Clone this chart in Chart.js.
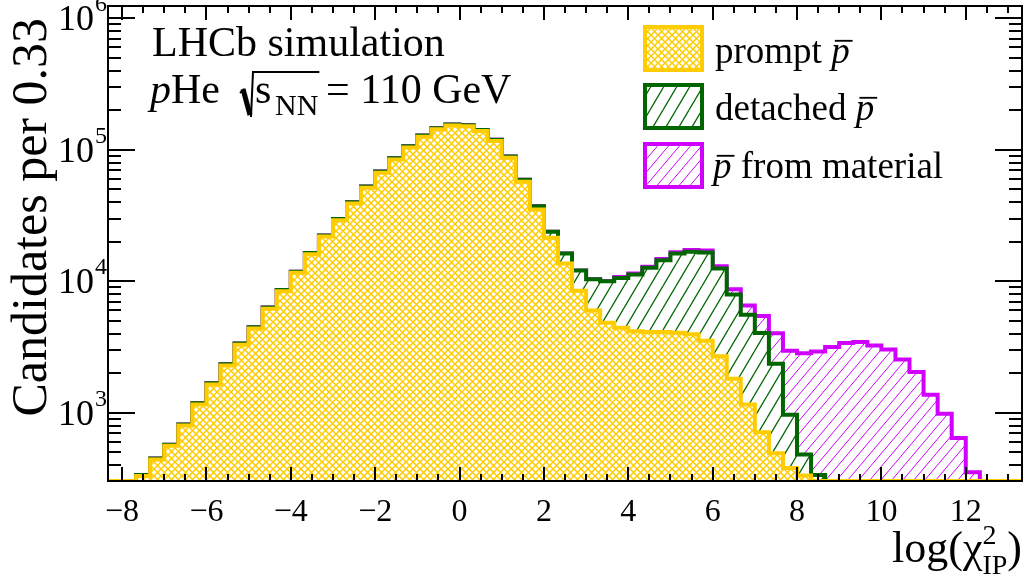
<!DOCTYPE html>
<html><head><meta charset="utf-8">
<script src="https://cdn.jsdelivr.net/npm/chart.js@4.4.1/dist/chart.umd.min.js"></script>
<style>html,body{margin:0;padding:0;background:#fff;}#wrap{width:1027px;height:577px;}</style>
</head><body><div id="wrap"><canvas id="c" width="1027" height="577"></canvas></div>
<script>
// ---- data ----
const BIN_START = -25/3;          // first bin lower edge
const BIN_WIDTH = 1/3;            // "Candidates per 0.33"
const X_TICKS = [-8,-6,-4,-2,0,2,4,6,8,10,12];
const Y_TICKS = [1e3,1e4,1e5,1e6];
const Y_MIN = 303, Y_MAX = 1.24e6;

// stacked histogram tops per bin (0 = empty bin)
const promptTop = [0,0,330,441,561,800,1156,1644,2291,3296,4385,6194,8395,11590,16070,21880,29170,39080,51420,66950,84530,104300,125800,143000,152700,150700,138700,116400,87100,57150,35160,21430,13650,8490,5985,4832,4426,4162,4120,4120,4065,3961,3533,2692,1815,1156,713,492,381,334,0,0,0,0,0,0,0,0,0,0,0,0,0,0,0];
const detachedTop = [0,0,337,450,572,816,1180,1677,2340,3365,4475,6320,8570,11830,16400,22330,29770,39890,52480,68330,86270,106500,128400,146000,155900,153900,141300,119400,89100,59160,37240,23770,16250,12060,10350,10000,10610,11250,12650,14450,16250,16740,16550,12500,7930,5575,4046,2362,966,481,336,0,0,0,0,0,0,0,0,0,0,0,0,0,0];
const materialTop = [0,0,337,450,572,816,1180,1677,2340,3365,4475,6320,8570,11830,16400,22330,29770,39890,52480,68330,86270,106500,128400,146000,155900,153900,141300,119400,89100,59160,37240,23770,16250,12060,10350,10000,10800,11450,12900,14750,16600,17300,17140,13010,8690,6560,5445,4027,2966,2833,2930,3165,3395,3455,3256,3036,2545,2042,1371,982,642,353,0,0,0];

const SERIES_LABELS = ['prompt', 'detached', 'from material'];
const COLORS = {prompt:'#ffcc00', detached:'#006600', material:'#d000ff'};

// ---- patterns ----
const canvas = document.getElementById('c');
const ctx0 = canvas.getContext('2d');
function makePattern(w, h, color, lw, drawFn){
  const t = document.createElement('canvas'); t.width = w; t.height = h;
  const g = t.getContext('2d');
  g.fillStyle = '#fff'; g.fillRect(0,0,w,h);
  g.strokeStyle = color; g.lineWidth = lw;
  g.beginPath(); drawFn(g, w, h); g.stroke();
  return ctx0.createPattern(t, 'repeat');
}
const patPrompt = makePattern(7, 7, COLORS.prompt, 1.5, (g,w,h)=>{
  g.moveTo(-1,-1); g.lineTo(w+1,h+1); g.moveTo(-1,h+1); g.lineTo(w+1,-1);
});
const patDetached = makePattern(13, 22, COLORS.detached, 1.3, (g,w,h)=>{
  for (const o of [-w,0,w]) { g.moveTo(o,h); g.lineTo(o+w,0); }
});
const patMaterial = makePattern(11, 13, COLORS.material, 1.0, (g,w,h)=>{
  for (const o of [-w,0,w]) { g.moveTo(o,h); g.lineTo(o+w,0); }
});

function steps(arr){
  const pts = arr.map((v,i)=>({x: BIN_START + i*BIN_WIDTH, y: v>0 ? v : Y_MIN}));
  pts.push({x: BIN_START + arr.length*BIN_WIDTH, y: pts[pts.length-1].y});
  return pts;
}
function ds(label, arr, color, pat){
  return {label, data: steps(arr), borderColor: color, backgroundColor: pat,
    borderWidth: 4, stepped: 'before', pointRadius: 0, fill: 'start',
    borderJoinStyle: 'miter', borderCapStyle: 'butt'};
}

const SERIF = '"Liberation Serif","DejaVu Serif",serif';

function pbar(ctx, x, base, size){
  ctx.font = 'italic ' + size + 'px ' + SERIF;
  ctx.fillText('p', x, base);
  const w = ctx.measureText('p').width;
  ctx.save(); ctx.lineWidth = Math.max(1.5, size/20);
  ctx.beginPath(); ctx.moveTo(x + 0.1*size, base - 0.6*size); ctx.lineTo(x + w + 0.08*size, base - 0.6*size); ctx.stroke();
  ctx.restore();
  return w;
}

const decor = {
  id: 'decor',
  afterDraw(chart){
    const ctx = chart.ctx, a = chart.chartArea, xs = chart.scales.x, ys = chart.scales.y;
    ctx.save();
    ctx.fillStyle = '#000'; ctx.strokeStyle = '#000';
    // ticks
    ctx.lineWidth = 2;
    ctx.beginPath();
    for (let k = -16; k <= 26; k++) {
      const v = k/2;
      if (v < xs.min || v > xs.max) continue;
      const px = Math.round(xs.getPixelForValue(v));
      const L = (k % 4 === 0) ? 14 : 7;
      ctx.moveTo(px, a.bottom); ctx.lineTo(px, a.bottom - L);
      ctx.moveTo(px, a.top); ctx.lineTo(px, a.top + L);
    }
    for (let d = 2; d <= 6; d++) {
      for (let m = 1; m <= 9; m++) {
        const v = m * Math.pow(10, d);
        if (v < ys.min || v > ys.max) continue;
        const py = Math.round(ys.getPixelForValue(v));
        const L = m === 1 ? 27 : 13;
        ctx.moveTo(a.left, py); ctx.lineTo(a.left + L, py);
        ctx.moveTo(a.right, py); ctx.lineTo(a.right - L, py);
      }
    }
    ctx.stroke();
    // frame
    ctx.strokeRect(a.left, a.top, a.right - a.left, a.bottom - a.top);

    // x tick labels
    ctx.font = '32px ' + SERIF; ctx.textAlign = 'center'; ctx.textBaseline = 'alphabetic';
    for (const v of X_TICKS) {
      const px = xs.getPixelForValue(v);
      const s = v < 0 ? '\u2212' + Math.abs(v) : String(v);
      ctx.fillText(s, px, 521);
    }
    // y tick labels 10^n
    for (const v of Y_TICKS) {
      const py = ys.getPixelForValue(v);
      const e = Math.round(Math.log10(v));
      ctx.font = '36px ' + SERIF; ctx.textAlign = 'right';
      ctx.fillText('10', 94, py + 12);
      ctx.font = '24px ' + SERIF; ctx.textAlign = 'left';
      ctx.fillText(String(e), 95, py - 7);
    }
    // axis titles
    ctx.save();
    ctx.translate(46, 18); ctx.rotate(-Math.PI/2);
    ctx.font = '50px ' + SERIF; ctx.textAlign = 'right';
    ctx.fillText('Candidates per 0.33', 0, 0);
    ctx.restore();

    ctx.textAlign = 'left';
    const big = '44px ' + SERIF, small = '28px ' + SERIF;
    ctx.font = big; const w1 = ctx.measureText('log(\u03C7').width; const w3 = ctx.measureText(')').width;
    ctx.font = small; const w2 = Math.max(ctx.measureText('2').width, ctx.measureText('IP').width);
    let tx = 1022 - (w1 + w2 + w3);
    ctx.font = big; ctx.fillText('log(\u03C7', tx, 562);
    ctx.font = small; ctx.fillText('2', tx + w1, 544); ctx.fillText('IP', tx + w1, 574);
    ctx.font = big; ctx.fillText(')', tx + w1 + w2, 562);

    // LHCb text
    ctx.font = '42px ' + SERIF;
    ctx.fillText('LHCb simulation', 152, 56);
    ctx.font = 'italic 42px ' + SERIF;
    ctx.fillText('p', 150, 103);
    ctx.font = '42px ' + SERIF;
    ctx.fillText('He', 171, 103);
    // radical
    const rx = 240;
    ctx.fillText('s', 255, 103);
    ctx.font = '30px ' + SERIF;
    ctx.fillText('NN', 275, 115);
    const nnEnd = 275 + ctx.measureText('NN').width;
    ctx.lineWidth = 2;
    ctx.beginPath(); ctx.moveTo(rx, 93); ctx.lineTo(rx + 4, 89); ctx.stroke();
    ctx.lineWidth = 5;
    ctx.beginPath(); ctx.moveTo(rx + 3, 89); ctx.lineTo(rx + 10, 115); ctx.stroke();
    ctx.lineWidth = 2;
    ctx.beginPath(); ctx.moveTo(rx + 11, 117); ctx.lineTo(rx + 13, 72); ctx.lineTo(nnEnd + 1, 72); ctx.stroke();
    ctx.font = '42px ' + SERIF;
    ctx.fillText('= 110 GeV', 326, 103);

    // legend
    const items = [
      {pat: patPrompt, col: COLORS.prompt, y: 27},
      {pat: patDetached, col: COLORS.detached, y: 85},
      {pat: patMaterial, col: COLORS.material, y: 144}
    ];
    for (const it of items) {
      ctx.fillStyle = it.pat; ctx.fillRect(645, it.y, 57, 43);
      ctx.strokeStyle = it.col; ctx.lineWidth = 4; ctx.strokeRect(645, it.y, 57, 43);
    }
    ctx.fillStyle = '#000'; ctx.strokeStyle = '#000';
    const LF = 37;
    ctx.font = LF + 'px ' + SERIF;
    ctx.fillText(SERIES_LABELS[0] + ' ', 715, 63);
    pbar(ctx, 715 + ctx.measureText(SERIES_LABELS[0] + ' ').width, 63, LF);
    ctx.font = LF + 'px ' + SERIF;
    ctx.fillText(SERIES_LABELS[1] + ' ', 715, 120);
    pbar(ctx, 715 + ctx.measureText(SERIES_LABELS[1] + ' ').width, 120, LF);
    const pw = pbar(ctx, 713, 178, LF);
    ctx.font = LF + 'px ' + SERIF;
    ctx.fillText(' ' + SERIES_LABELS[2], 713 + pw, 178);
    ctx.restore();
  }
};

new Chart(canvas, {
  type: 'line',
  data: { datasets: [
    ds('prompt', promptTop, COLORS.prompt, patPrompt),
    ds('detached', detachedTop, COLORS.detached, patDetached),
    ds('from material', materialTop, COLORS.material, patMaterial)
  ]},
  options: {
    responsive: false, animation: false, events: [],
    layout: { padding: { left: 108, right: 5, top: 6, bottom: 96 } },
    scales: {
      x: { type: 'linear', display: false, min: BIN_START, max: BIN_START + 65*BIN_WIDTH },
      y: { type: 'logarithmic', display: false, min: Y_MIN, max: Y_MAX }
    },
    plugins: { legend: { display: false }, tooltip: { enabled: false } }
  },
  plugins: [decor]
});
</script></body></html>
